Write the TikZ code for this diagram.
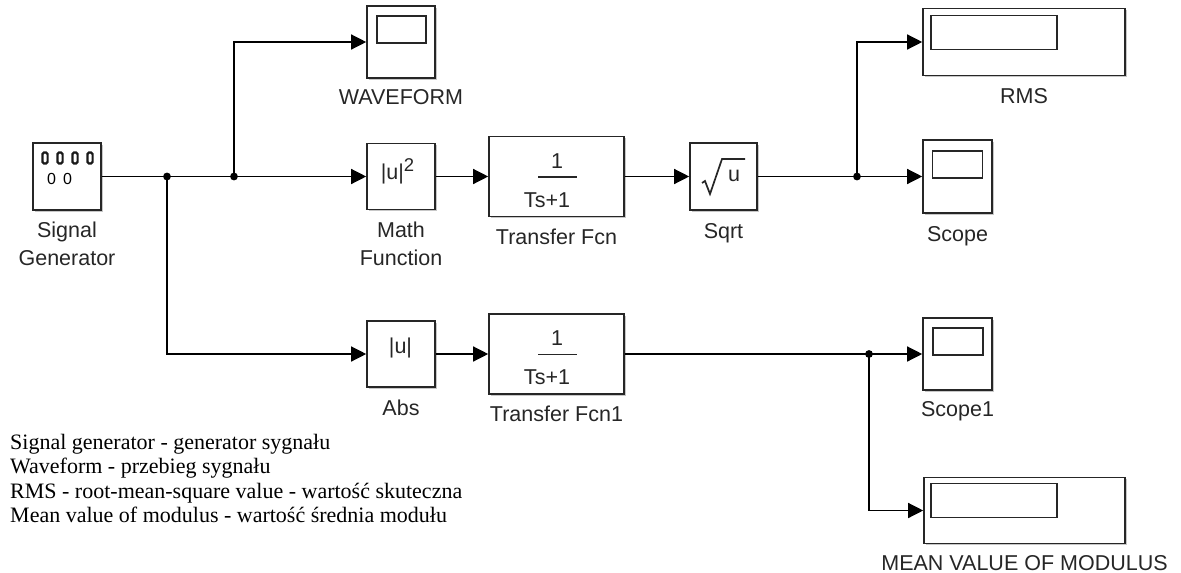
\documentclass[tikz,border=0pt]{standalone}
\usepackage{fontspec}
\setmainfont{Liberation Sans}
\newfontfamily\legendserif{Liberation Serif}
\usetikzlibrary{arrows.meta,shadows,calc}

\newcommand\lblfont{\fontsize{21.5}{28}\selectfont}
\newcommand\blkfont{\fontsize{21.5}{24}\selectfont}
\newcommand\legfont{\legendserif\fontsize{22}{24.5}\selectfont}

\begin{document}
\begin{tikzpicture}[x=1pt,y=-1pt,
  blk/.style={draw=black!85, line width=1.6pt, fill=white, inner sep=0pt,
    drop shadow={shadow xshift=1.8pt, shadow yshift=-1.8pt, opacity=0.22, fill=black}},
  wire/.style={line width=1.3pt, draw=black},
  sig/.style={wire, -{Triangle[length=15pt,width=15pt]}},
  dot/.style={fill=black},
  lbl/.style={anchor=north, inner sep=0pt, align=center, font=\lblfont, text=black!85},
  txt/.style={inner sep=0pt, font=\blkfont, text=black!85},
  screen/.style={draw=black!85, line width=1.5pt},
  key/.style={draw=black!90, line width=2.2pt, rounded corners=1.6pt}
]
\useasboundingbox (0,0) rectangle (1181,573);

% ---------- blocks ----------
\node[blk, minimum width=68pt, minimum height=67pt] (sg)    at (67,176.5)    {};
\node[blk, minimum width=68pt, minimum height=72pt] (wave)  at (401,42)      {};
\node[blk, minimum width=68pt, minimum height=66pt] (mf)    at (401,176.5)   {};
\node[blk, minimum width=135pt, minimum height=80pt] (tf)   at (556.5,176.5) {};
\node[blk, minimum width=67pt, minimum height=67pt] (sqrt)  at (723.5,176.5) {};
\node[blk, minimum width=202pt, minimum height=67pt] (rms)  at (1024,42)     {};
\node[blk, minimum width=69pt, minimum height=73pt] (scope) at (957.5,176.5) {};
\node[blk, minimum width=68pt, minimum height=66pt] (abs)   at (401,354)     {};
\node[blk, minimum width=135pt, minimum height=80pt] (tf1)  at (556.5,354)   {};
\node[blk, minimum width=69pt, minimum height=72pt] (scope1) at (957.5,354)  {};
\node[blk, minimum width=201pt, minimum height=66pt] (mean) at (1024.5,510.5) {};

% ---------- block icons ----------
% signal generator keypad
\foreach \dx in {-22,-7,8,23}
  \draw[key] ($(sg.center)+(\dx-2.6,-24)$) rectangle ($(sg.center)+(\dx+2.6,-13)$);
\node[txt, font=\fontsize{16}{16}\selectfont, text=black] (sgz1) at ($(sg.center)+(-15.5,2)$) {0};
\node[txt, font=\fontsize{16}{16}\selectfont, text=black] (sgz2) at ($(sg.center)+(0.5,2)$) {0};

% scope screens
\draw[screen] ($(wave.north west)+(11,11)$) rectangle ($(wave.north west)+(60,38)$);
\draw[screen] ($(scope.north west)+(10.5,12)$) rectangle ($(scope.north west)+(60.5,39)$);
\draw[screen] ($(scope1.north west)+(11,11)$) rectangle ($(scope1.north west)+(61,38)$);
% display screens
\draw[screen] ($(rms.north west)+(9,8)$) rectangle ($(rms.north west)+(135,42)$);
\draw[screen] ($(mean.north west)+(8,7)$) rectangle ($(mean.north west)+(134,41)$);

% math function |u|^2
\node[txt] (mftxt) at ($(mf.center)+(-3.5,-5)$) {|u|\raisebox{8pt}{\fontsize{18.5}{18}\selectfont 2}};
% abs |u|
\node[txt] (abstxt) at ($(abs.center)+(-0.5,-6)$) {|u|};

% transfer functions 1/(Ts+1)
\foreach \b in {tf,tf1}{
  \node[txt] (\b num) at ($(\b.center)+(0.5,-15.5)$) {1};
  \draw[line width=1.8pt, black!85] ($(\b.center)+(-18.5,0.5)$) -- ($(\b.center)+(20.5,0.5)$);
  \node[txt] (\b den) at ($(\b.center)+(-9.5,23.5)$) {Ts+1};
}

% square root
\draw[line width=1.7pt, black!85, line join=miter]
  ($(sqrt.center)+(-21.5,6.5)$) -- ($(sqrt.center)+(-18.5,4.5)$)
  -- ($(sqrt.center)+(-13.5,17.5)$) -- ($(sqrt.center)+(-1.5,-17.5)$)
  -- ($(sqrt.center)+(21.5,-17.5)$);
\node[txt] (sqrttxt) at ($(sqrt.center)+(10.5,-0.5)$) {u};

% ---------- labels ----------
\node[lbl] (sgl)     at ([yshift=-11pt]sg.south)     {Signal\\Generator};
\node[lbl] (wavel)   at ([yshift=-10pt]wave.south)   {WAVEFORM};
\node[lbl] (mfl)     at ([yshift=-11pt]mf.south)     {Math\\Function};
\node[lbl] (tfl)     at ([yshift=-11pt]tf.south)     {Transfer Fcn};
\node[lbl] (sqrtl)   at ([yshift=-12pt]sqrt.south)   {Sqrt};
\node[lbl] (rmsl)    at ([yshift=-12pt]rms.south)    {RMS};
\node[lbl] (scopel)  at ([yshift=-12pt]scope.south)  {Scope};
\node[lbl] (absl)    at ([yshift=-12pt]abs.south)    {Abs};
\node[lbl] (tf1l)    at ([yshift=-11pt]tf1.south)    {Transfer Fcn1};
\node[lbl] (scope1l) at ([yshift=-10pt]scope1.south) {Scope1};
\node[lbl] (meanl)   at ([yshift=-11pt]mean.south)   {MEAN VALUE OF MODULUS};

% ---------- signal lines ----------
\coordinate (j1) at (167,176.5);
\coordinate (j2) at (234,176.5);
\coordinate (j3) at (857,176.5);
\coordinate (j4) at (869,354);

\draw[wire] (sg.east) -- (j2);
\draw[sig] (j2) -- (mf.west);
\draw[sig] (j2) |- (wave.west);
\draw[sig] (j1) |- (abs.west);
\draw[sig] (mf.east) -- (tf.west);
\draw[sig] (tf.east) -- (sqrt.west);
\draw[wire] (sqrt.east) -- (j3);
\draw[sig] (j3) -- (scope.west);
\draw[sig] (j3) |- (rms.west);
\draw[sig] (abs.east) -- (tf1.west);
\draw[wire] (tf1.east) -- (j4);
\draw[sig] (j4) -- (scope1.west);
\draw[sig] (j4) |- (mean.west);

\foreach \j in {j1,j2,j3,j4} \fill[dot] (\j) circle (3.9pt);

% ---------- legend ----------
\node[anchor=north west, inner sep=0pt, align=left, font=\legfont] (legend) at (10,434)
  {Signal generator - generator sygnału\\
   Waveform - przebieg sygnału\\
   RMS - root-mean-square value - wartość skuteczna\\
   Mean value of modulus - wartość średnia modułu};
\end{tikzpicture}
\end{document}
